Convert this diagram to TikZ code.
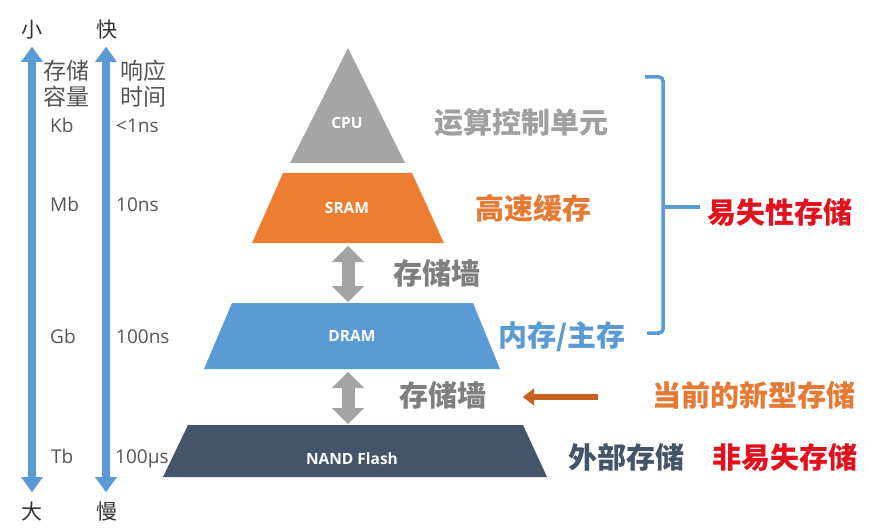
\documentclass[tikz,border=0pt]{standalone}
\usepackage{fontspec}
\setmainfont{Noto Sans CJK SC}
\newfontfamily\lat{Open Sans}
\usetikzlibrary{arrows.meta}
\definecolor{cpuC}{HTML}{A5A5A5}
\definecolor{sramC}{HTML}{ED7D31}
\definecolor{dramC}{HTML}{5B9BD5}
\definecolor{nandC}{HTML}{44546A}
\definecolor{axisC}{HTML}{5B9BD5}
\definecolor{wallC}{HTML}{A3A3A3}
\definecolor{txtgray}{HTML}{A0A0A0}
\definecolor{wallTxt}{HTML}{7F7F7F}
\definecolor{orgTxt}{HTML}{E57A35}
\definecolor{newArr}{HTML}{C9601C}
\definecolor{redTxt}{HTML}{E3101E}
\definecolor{darkTxt}{HTML}{333333}
\definecolor{midTxt}{HTML}{555555}
\tikzset{
  axisarrow/.style={draw=axisC, line width=8pt,
    {Triangle[length=15pt,width=22pt,line width=0.1pt]}-{Triangle[length=15pt,width=22pt,line width=0.1pt]}},
  wallarrow/.style={draw=wallC, line width=13pt,
    {Triangle[length=16pt,width=32pt,line width=0.1pt]}-{Triangle[length=16pt,width=32pt,line width=0.1pt]}},
  newarrow/.style={draw=newArr, line width=6pt, -{Triangle[length=11pt,width=17pt,line width=0.1pt]}},
  bracket/.style={draw=axisC, line width=3.5pt, rounded corners=4pt},
  endlbl/.style={text=darkTxt, font=\fontsize{21}{21}\selectfont, inner sep=0pt},
  axislbl/.style={text=midTxt, font=\fontsize{23}{26}\selectfont, inner sep=0pt, align=center},
  vallbl/.style={text=midTxt, font=\lat\fontsize{19}{19}\selectfont, inner sep=0pt, anchor=west, text height=13.5pt, text depth=0pt},
  tierlbl/.style={text=white, font=\lat\bfseries\fontsize{15.5}{15.5}\selectfont, inner sep=0pt},
  biglbl/.style={font=\bfseries\fontsize{29}{29}\selectfont, inner sep=0pt},
}
\begin{document}
\begin{tikzpicture}[x=1pt,y=-1pt]
\useasboundingbox[fill=white] (0,0) rectangle (892,532);

% left axes
\coordinate (capT) at (32,47);
\coordinate (capB) at (32,492);
\coordinate (timT) at (106,47);
\coordinate (timB) at (106,492);
\draw[axisarrow] (capT) -- (capB);
\draw[axisarrow] (timT) -- (timB);
\node[endlbl] (small) at (32,30) {小};
\node[endlbl] (large) at (32,512) {大};
\node[endlbl] (fast) at (107,30) {快};
\node[endlbl] (slow) at (107,512) {慢};
\node[axislbl] (cap) at (66,84) {存储\\容量};
\node[axislbl] (resp) at (143,84) {响应\\时间};
\node[vallbl] (kb) at (50,126) {Kb};
\node[vallbl] (mb) at (50,205) {Mb};
\node[vallbl] (gb) at (50,337) {Gb};
\node[vallbl] (tb) at (51,457) {Tb};
\node[vallbl] (t1) at (116,126) {<1ns};
\node[vallbl] (t2) at (116,205) {10ns};
\node[vallbl] (t3) at (116,337) {100ns};
\node[vallbl] (t4) at (115,457) {100μs};

% pyramid
\fill[cpuC] (348,48) -- (405,163) -- (290,163) -- cycle;
\fill[sramC] (283,173) -- (412,173) -- (444,243) -- (252,243) -- cycle;
\fill[dramC] (232,303) -- (473,303) -- (500,369) -- (204,369) -- cycle;
\fill[nandC] (188,425) -- (523,425) -- (547,477) -- (163,477) -- cycle;
\node[tierlbl] (cpu) at (347,123) {CPU};
\node[tierlbl] (sram) at (347,208) {SRAM};
\node[tierlbl] (dram) at (352,336) {DRAM};
\node[tierlbl] (nand) at (352,459) {NAND Flash};
\coordinate (sramB) at (348,246);
\coordinate (dramT) at (348,302);
\coordinate (dramB) at (348,372);
\coordinate (nandT) at (348,424);
\draw[wallarrow] (sramB) -- (dramT);
\draw[wallarrow] (dramB) -- (nandT);

% right labels
\node[biglbl, text=txtgray] (alu) at (521,123) {运算控制单元};
\node[biglbl, text=orgTxt] (cache) at (533,208) {高速缓存};
\node[biglbl, text=wallTxt] (wall1) at (437,273) {存储墙};
\node[biglbl, text=dramC] (mem) at (562,337) {内存/主存};
\node[biglbl, text=wallTxt] (wall2) at (443,395) {存储墙};
\node[biglbl, text=nandC] (ext) at (626,457) {外部存储};
\node[biglbl, text=redTxt] (nonvol) at (785,457) {非易失存储};
\node[biglbl, text=redTxt] (vol) at (780,212) {易失性存储};
\node[biglbl, text=orgTxt] (newst) at (754,395) {当前的新型存储};

% orange arrow
\coordinate (naS) at (598,397);
\coordinate (naE) at (523,397);
\draw[newarrow] (naS) -- (naE);

% bracket
\coordinate (brT) at (645,77);
\coordinate (brB) at (647,333);
\coordinate (brM) at (663,207);
\coordinate (brR) at (700,207);
\draw[bracket] (brT) -- (663,77) -- (663,333) -- (brB);
\draw[bracket] (brM) -- (brR);
\end{tikzpicture}
\end{document}
